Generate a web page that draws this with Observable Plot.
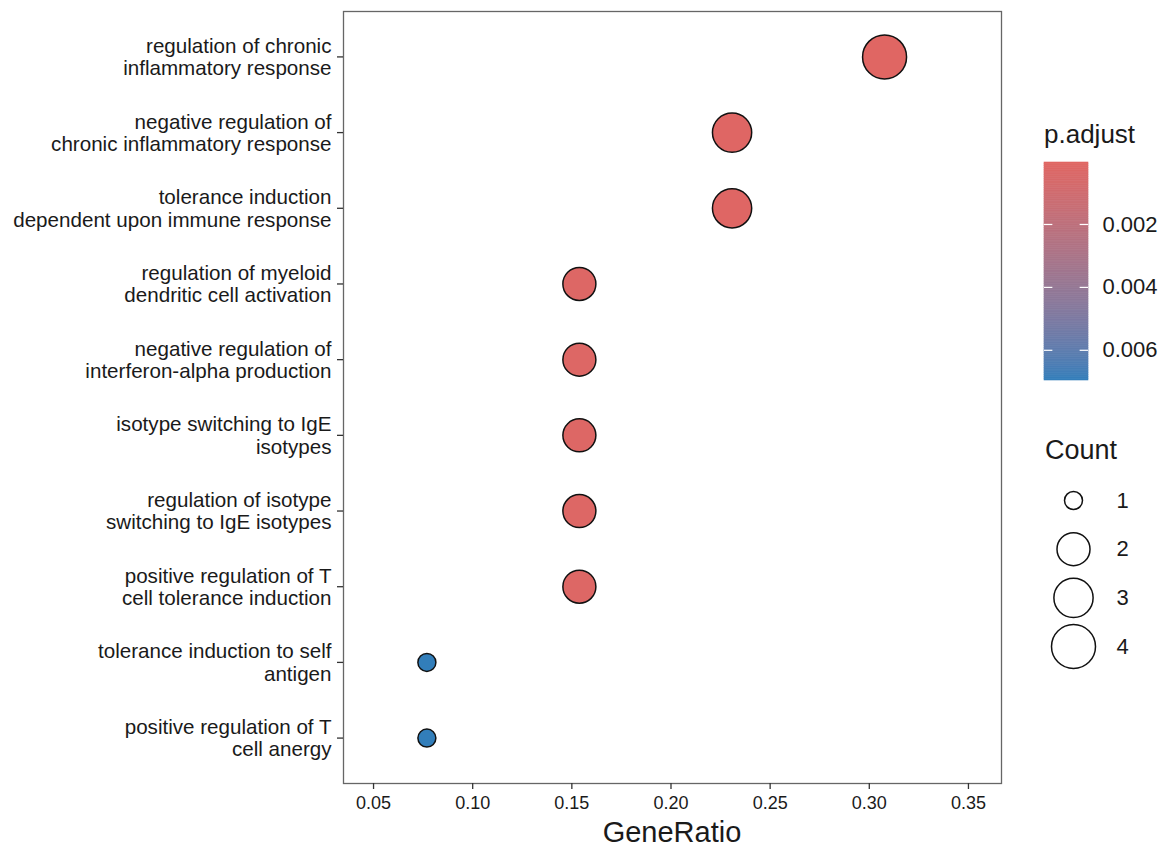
<!DOCTYPE html>
<html>
<head>
<meta charset="utf-8">
<script src="https://cdn.jsdelivr.net/npm/d3@7"></script>
<script src="https://cdn.jsdelivr.net/npm/@observablehq/plot@0.6"></script>
<style>
  html, body { margin: 0; padding: 0; background: #fff; }
  #wrap { position: relative; width: 1160px; height: 849px; font-family: "Liberation Sans", Arial, sans-serif; color: #1a1a1a; }
  #wrap > div.abs { position: absolute; }
  .ttl { line-height: 1; white-space: nowrap; }
</style>
</head>
<body>
<div id="wrap"></div>
<script>
// ---- data ----
const terms = [
  "regulation of chronic\ninflammatory response",
  "negative regulation of\nchronic inflammatory response",
  "tolerance induction\ndependent upon immune response",
  "regulation of myeloid\ndendritic cell activation",
  "negative regulation of\ninterferon-alpha production",
  "isotype switching to IgE\nisotypes",
  "regulation of isotype\nswitching to IgE isotypes",
  "positive regulation of T\ncell tolerance induction",
  "tolerance induction to self\nantigen",
  "positive regulation of T\ncell anergy"
];
const geneRatio = [0.3077, 0.2308, 0.2308, 0.1538, 0.1538, 0.1538, 0.1538, 0.1538, 0.0769, 0.0769];
const counts = [4, 3, 3, 2, 2, 2, 2, 2, 1, 1];
const pAdjust = [0.00003, 0.0001, 0.0001, 0.0002, 0.0002, 0.0002, 0.0002, 0.0002, 0.00696, 0.00696];
const pAdjustLimits = [0.00003, 0.00696];
const xTicks = [0.05, 0.10, 0.15, 0.20, 0.25, 0.30, 0.35];
const xLimits = [0.03485, 0.36667];
const colorTicks = [0.002, 0.004, 0.006];
const sizeLegendCounts = [1, 2, 3, 4];
const lowColor = "#e06663";
const highColor = "#327eba";

const rows = terms.map((t, i) => ({term: t, ratio: geneRatio[i], count: counts[i], p: pAdjust[i]}));

const FONT = "'Liberation Sans', Arial, sans-serif";
const colorScale = {type: "linear", domain: pAdjustLimits, range: [lowColor, highColor], interpolate: "lab"};
const rScale = {type: "linear", transform: c => Math.sqrt((c - 1) / 3), range: [9, 22]};

const wrap = document.getElementById("wrap");

// ---- main panel ----
const main = Plot.plot({
  width: 1160,
  height: 849,
  marginLeft: 343,
  marginRight: 159,
  marginTop: 11,
  marginBottom: 66,
  style: {fontFamily: FONT, color: "#1a1a1a", background: "transparent"},
  x: {domain: xLimits},
  y: {type: "point", domain: terms, padding: 0.6, round: false},
  color: colorScale,
  r: rScale,
  marks: [
    Plot.frame({stroke: "#666", strokeWidth: 1.3}),
    Plot.axisX({ticks: xTicks, tickFormat: d3.format(".2f"), tickSize: 6, tickPadding: 7, fontSize: 18, label: null, stroke: "#333", strokeWidth: 1.3}),
    Plot.axisY({tickSize: 6, tickPadding: 6, fontSize: 20.6, lineHeight: 1.08, label: null, stroke: "#333", strokeWidth: 1.3}),
    Plot.dot(rows, {x: "ratio", y: "term", r: "count", fill: "p", stroke: "#111", strokeWidth: 1.5})
  ]
});
const mainDiv = document.createElement("div");
mainDiv.className = "abs";
mainDiv.style.left = "0px"; mainDiv.style.top = "0px";
mainDiv.appendChild(main);
wrap.appendChild(mainDiv);

// ---- x axis title ----
const xt = document.createElement("div");
xt.className = "abs ttl";
xt.textContent = "GeneRatio";
xt.style.fontSize = "29px";
xt.style.left = "572px"; xt.style.width = "200px"; xt.style.textAlign = "center";
xt.style.top = "818px";
wrap.appendChild(xt);

// ---- colour bar legend ----
const pt = document.createElement("div");
pt.className = "abs ttl";
pt.textContent = "p.adjust";
pt.style.fontSize = "26px";
pt.style.left = "1044px"; pt.style.top = "121px";
wrap.appendChild(pt);

const nSteps = 120;
const barVals = d3.range(nSteps).map(i => pAdjustLimits[0] + (pAdjustLimits[1] - pAdjustLimits[0]) * i / nSteps);
const stepSize = (pAdjustLimits[1] - pAdjustLimits[0]) / nSteps;
const cbar = Plot.plot({
  width: 150,
  height: 240,
  marginLeft: 34,
  marginRight: 72,
  marginTop: 12,
  marginBottom: 10,
  style: {fontFamily: FONT, color: "#1a1a1a", background: "transparent"},
  x: {domain: [0, 1], axis: null},
  y: {domain: pAdjustLimits, reverse: true, axis: null},
  color: colorScale,
  marks: [
    Plot.rect(barVals, {x1: 0, x2: 1, y1: d => d, y2: d => d + stepSize, fill: d => d + stepSize / 2, stroke: d => d + stepSize / 2, strokeWidth: 0.6}),
    Plot.ruleY(colorTicks, {x1: 0, x2: 0.19, stroke: "white", strokeWidth: 1.2}),
    Plot.ruleY(colorTicks, {x1: 0.81, x2: 1, stroke: "white", strokeWidth: 1.2}),
    Plot.axisY({ticks: colorTicks, anchor: "right", tickSize: 0, tickPadding: 14, fontSize: 22, tickFormat: d3.format(".3f"), label: null})
  ]
});
const cDiv = document.createElement("div");
cDiv.className = "abs";
cDiv.style.left = "1010px"; cDiv.style.top = "150px";
cDiv.appendChild(cbar);
wrap.appendChild(cDiv);

// ---- size legend ----
const ct = document.createElement("div");
ct.className = "abs ttl";
ct.textContent = "Count";
ct.style.fontSize = "27px";
ct.style.left = "1045px"; ct.style.top = "437px";
wrap.appendChild(ct);

const sleg = Plot.plot({
  width: 150,
  height: 210,
  marginLeft: 43,
  marginRight: 67,
  marginTop: 0,
  marginBottom: 0,
  style: {fontFamily: FONT, color: "#1a1a1a", background: "transparent"},
  y: {type: "point", domain: sizeLegendCounts, range: [30, 176], padding: 0, round: false, axis: null},
  r: rScale,
  marks: [
    Plot.dot(sizeLegendCounts, {y: d => d, r: d => d, fill: "white", stroke: "#111", strokeWidth: 1.5}),
    Plot.text(sizeLegendCounts, {y: d => d, text: d => String(d), frameAnchor: "right", dx: 23, textAnchor: "start", fontSize: 22})
  ]
});
const sDiv = document.createElement("div");
sDiv.className = "abs";
sDiv.style.left = "1010px"; sDiv.style.top = "470px";
sDiv.appendChild(sleg);
wrap.appendChild(sDiv);
</script>
</body>
</html>
